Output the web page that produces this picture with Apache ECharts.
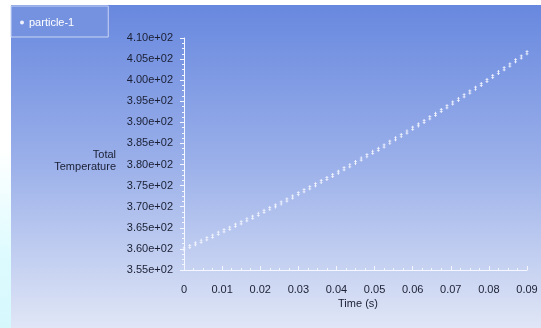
<!DOCTYPE html>
<html><head><meta charset="utf-8">
<script src="https://cdn.jsdelivr.net/npm/echarts@6/dist/echarts.min.js"></script>
<style>html,body{margin:0;padding:0;background:#fff}#c{width:541px;height:328px}</style>
</head><body><div id="c"></div>
<script>
// Data
const seriesName = 'particle-1';
const timeS = [0,0.0015,0.003,0.0045,0.006,0.0075,0.009,0.0105,0.012,0.0135,0.015,0.0165,0.018,0.0195,0.021,0.0225,0.024,0.0255,0.027,0.0285,0.03,0.0315,0.033,0.0345,0.036,0.0375,0.039,0.0405,0.042,0.0435,0.045,0.0465,0.048,0.0495,0.051,0.0525,0.054,0.0555,0.057,0.0585,0.06,0.0615,0.063,0.0645,0.066,0.0675,0.069,0.0705,0.072,0.0735,0.075,0.0765,0.078,0.0795,0.081,0.0825,0.084,0.0855,0.087,0.0885,0.09];
const totalTemp = [360.0,360.6,361.2,361.8,362.4,363.0,363.7,364.3,364.9,365.6,366.2,366.9,367.5,368.2,368.9,369.6,370.2,370.9,371.6,372.3,373.1,373.8,374.5,375.2,376.0,376.7,377.4,378.2,379.0,379.7,380.5,381.3,382.1,382.9,383.6,384.4,385.3,386.1,386.9,387.7,388.6,389.4,390.2,391.1,391.9,392.8,393.7,394.6,395.4,396.3,397.2,398.1,399.0,399.9,400.9,401.8,402.7,403.6,404.6,405.5,406.5];
const yMin = 355, yMax = 410, yStep = 5;
const xMin = 0, xMax = 0.09, xStep = 0.01;
const yAxisTitle = 'Total\nTemperature';
const xAxisTitle = 'Time (s)';

const pts = timeS.map((t, i) => [t, totalTemp[i]]);
const font = "'Liberation Sans',Arial,sans-serif";
const chart = echarts.init(document.getElementById('c'), null, {renderer: 'canvas'});
chart.setOption({
  animation: false,
  graphic: [
    {type: 'rect', z: -10, silent: true, shape: {x: 0, y: 0, width: 11, height: 328},
      style: {fill: new echarts.graphic.LinearGradient(0, 0, 0, 1, [
        {offset: 0, color: '#ffffff'}, {offset: 0.45, color: '#ffffff'},
        {offset: 0.8, color: '#dcfbff'}, {offset: 1, color: '#d6f8fd'}])}},
    {type: 'rect', z: -10, silent: true, shape: {x: 11, y: 5, width: 530, height: 323},
      style: {fill: new echarts.graphic.LinearGradient(0, 0, 0, 1, [
        {offset: 0, color: '#6888df'}, {offset: 0.5, color: '#9cb1ea'}, {offset: 1, color: '#e0e6f6'}])}},
    {type: 'text', z: 10, silent: true, x: 116, y: 149,
      style: {text: yAxisTitle, fill: '#1a1f33', font: '11px ' + font, align: 'right', verticalAlign: 'top', lineHeight: 12}},
    {type: 'text', z: 10, silent: true, x: 358, y: 298,
      style: {text: xAxisTitle, fill: '#1a1f33', font: '11px ' + font, align: 'center', verticalAlign: 'top'}}
  ],
  legend: {
    left: 11, top: 6, orient: 'vertical',
    padding: [11, 34, 9, 9],
    backgroundColor: '#7592e1', borderColor: '#c9d6f4', borderWidth: 1,
    itemWidth: 4, itemHeight: 4, itemGap: 4,
    icon: 'circle',
    textStyle: {color: '#ffffff', fontFamily: font, fontSize: 11},
    data: [seriesName]
  },
  grid: {left: 184, right: 14, top: 38, bottom: 58, containLabel: false},
  xAxis: {
    type: 'value', min: xMin, max: xMax, interval: xStep,
    axisLine: {show: true, lineStyle: {color: '#f4f7ff', width: 1}},
    axisTick: {show: true, inside: true, length: 4, lineStyle: {color: '#f4f7ff'}},
    minorTick: {show: true, splitNumber: 4, length: 2, lineStyle: {color: '#f4f7ff'}},
    splitLine: {show: false},
    axisLabel: {color: '#1a1f33', fontFamily: font, fontSize: 11, margin: 14,
      formatter: v => v === 0 ? '0' : v.toFixed(2)}
  },
  yAxis: {
    type: 'value', min: yMin, max: yMax, interval: yStep,
    axisLine: {show: true, lineStyle: {color: '#f4f7ff', width: 1}},
    axisTick: {show: true, inside: false, length: 4, lineStyle: {color: '#f4f7ff'}},
    minorTick: {show: true, splitNumber: 4, length: 2, lineStyle: {color: '#f4f7ff'}},
    splitLine: {show: false},
    axisLabel: {color: '#1a1f33', fontFamily: font, fontSize: 11, margin: 11,
      formatter: v => (v / 100).toFixed(2) + 'e+02'}
  },
  series: [{
    name: seriesName, type: 'scatter', data: pts,
    symbol: 'path://M1,0H2V7H1Z M0,1.5H3V2.5H0Z M0,4.5H3V5.5H0Z',
    symbolSize: [3, 5],
    itemStyle: {color: '#f4f7ff', opacity: 0.95}
  }]
});
</script></body></html>
